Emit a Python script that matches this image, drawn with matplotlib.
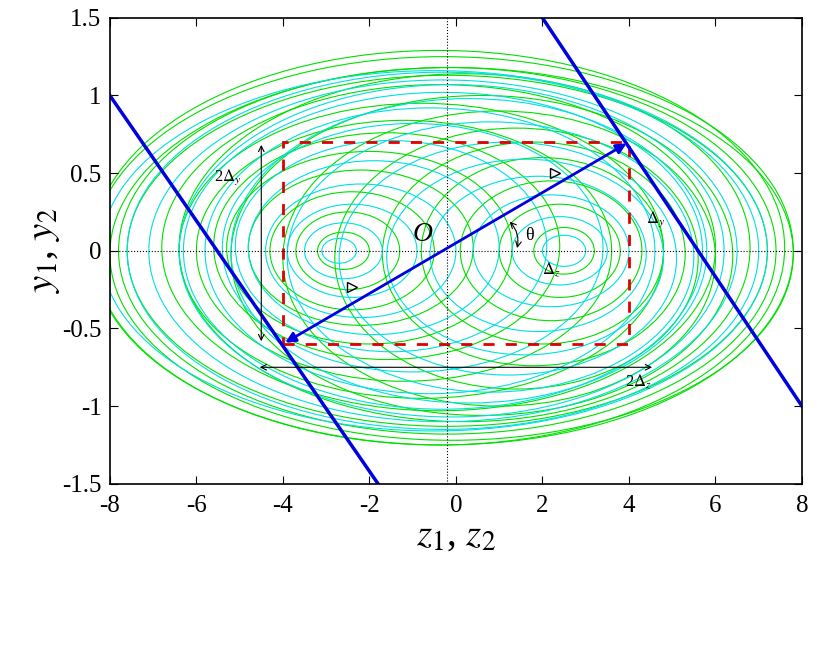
import matplotlib
matplotlib.use("Agg")
import matplotlib.pyplot as plt
from matplotlib.patches import Ellipse, Rectangle

plt.rcParams['font.family'] = ['Liberation Serif', 'DejaVu Serif']
plt.rcParams['mathtext.fontset'] = 'stix'

# loop families: center x, center y, half-width, half-height
green_cx = [-2.6,-2.5,-2.4,-2.2,-2.0,-1.6,-1.2,-0.8,-0.4,-0.2,2.5,2.4,2.2,2.0,1.8,1.4,1.0,0.6,0.2,-0.2,-0.3,-0.1,-0.4]
green_cy = [0.0,0.0,0.0,0.02,0.02,0.03,0.0,0.0,0.02,0.0,0.0,0.0,0.0,0.0,-0.02,-0.05,-0.05,-0.03,0.02,0.0,0.0,-0.02,0.02]
green_rx = [0.6,1.2,1.9,2.6,3.3,4.0,4.8,5.6,6.4,7.4,0.7,1.4,2.1,2.8,3.5,4.2,5.0,5.8,6.6,7.6,8.1,7.9,8.0]
green_ry = [0.12,0.25,0.38,0.5,0.62,0.73,0.84,0.95,1.05,1.13,0.15,0.3,0.45,0.6,0.72,0.84,0.95,1.03,1.12,1.18,1.25,1.2,1.27]
cyan_cx = [-2.7,-2.6,-2.4,-2.2,-1.9,-1.5,-1.0,-0.6,-0.3,-0.3,2.5,2.4,2.2,1.9,1.6,1.2,0.8,0.3,-0.1,-0.3,-0.5]
cyan_cy = [0.0,0.0,0.0,0.0,0.02,0.03,0.02,0.0,0.0,0.0,0.0,0.0,0.0,-0.02,-0.04,-0.05,-0.04,0.0,0.0,0.0,0.0]
cyan_rx = [0.4,0.9,1.5,2.2,2.9,3.6,4.4,5.2,6.0,6.8,0.5,1.1,1.8,2.5,3.2,3.9,4.7,5.5,6.3,7.3,7.7]
cyan_ry = [0.08,0.18,0.3,0.43,0.56,0.68,0.8,0.92,1.02,1.1,0.1,0.22,0.36,0.5,0.63,0.75,0.87,0.98,1.07,1.15,1.16]

fig = plt.figure(figsize=(8.2, 6.6), dpi=100)
ax = fig.add_axes([0.134, 0.267, 0.844, 0.706])
ax.set_xlim(-8, 8); ax.set_ylim(-1.5, 1.5)

for cx, cy, rx, ry in zip(green_cx, green_cy, green_rx, green_ry):
    ax.add_patch(Ellipse((cx, cy), 2*rx, 2*ry, fill=False, ec='#00e000', lw=0.8))
for cx, cy, rx, ry in zip(cyan_cx, cyan_cy, cyan_rx, cyan_ry):
    ax.add_patch(Ellipse((cx, cy), 2*rx, 2*ry, fill=False, ec='#00e0e0', lw=0.8))

ax.axhline(0, color='k', ls=':', lw=0.8)
ax.axvline(-0.2, color='k', ls=':', lw=0.8)

# red dashed rectangle
ax.add_patch(Rectangle((-4, -0.6), 8, 1.3, fill=False, ec='#e00000', ls=(0, (4, 4)), lw=2))

# blue lines
line1_x = [-8, -1.8]; line1_y = [1.0, -1.5]
line2_x = [2.0, 8.0]; line2_y = [1.5, -1.0]
ax.plot(line1_x, line1_y, color='#0000e0', lw=2.5)
ax.plot(line2_x, line2_y, color='#0000e0', lw=2.5)
ax.annotate('', xy=(4, 0.7), xytext=(-4, -0.6),
            arrowprops=dict(arrowstyle='<|-|>', color='#0000e0', lw=2, mutation_scale=15))

# black dimension arrows
ax.annotate('', xy=(-4.5, 0.7), xytext=(-4.5, -0.6),
            arrowprops=dict(arrowstyle='<->', color='k', lw=0.8))
ax.annotate('', xy=(4.6, -0.75), xytext=(-4.6, -0.75),
            arrowprops=dict(arrowstyle='<->', color='k', lw=0.8))
ax.annotate('', xy=(1.4, 0.0), xytext=(1.2, 0.2),
            arrowprops=dict(arrowstyle='<->', color='k', lw=0.8, connectionstyle='arc3,rad=-0.3'))

ax.text(-5.6, 0.45, r'2$\Delta_y$', fontsize=12)
ax.text(3.9, -0.87, r'2$\Delta_z$', fontsize=12)
ax.text(4.4, 0.18, r'$\Delta_y$', fontsize=12)
ax.text(2.0, -0.15, r'$\Delta_z$', fontsize=12)
ax.text(1.6, 0.07, 'θ', fontsize=13)
ax.text(-1.0, 0.06, 'O', fontsize=20, style='italic')

# direction markers
ax.plot([2.3], [0.5], marker='>', mfc='none', mec='k', ms=7)
ax.plot([-2.4], [-0.23], marker='>', mfc='none', mec='k', ms=7)

ax.set_xticks([-8, -6, -4, -2, 0, 2, 4, 6, 8])
ax.set_yticks([-1.5, -1, -0.5, 0, 0.5, 1, 1.5])
ax.set_yticklabels(['-1.5', '-1', '-0.5', '0', '0.5', '1', '1.5'])
ax.set_xticklabels(['-8', '-6', '-4', '-2', '0', '2', '4', '6', '8'])
ax.tick_params(labelsize=18, direction='in', top=True, right=True, length=6)
ax.tick_params(axis='x', pad=8)
ax.tick_params(axis='y', pad=6)
for s in ax.spines.values():
    s.set_linewidth(1.2)
ax.set_xlabel(r'$z_1$, $z_2$', fontsize=28, labelpad=0)
ax.set_ylabel(r'$y_1$, $y_2$', fontsize=28, labelpad=0)

fig.savefig('out.png', dpi=100)
